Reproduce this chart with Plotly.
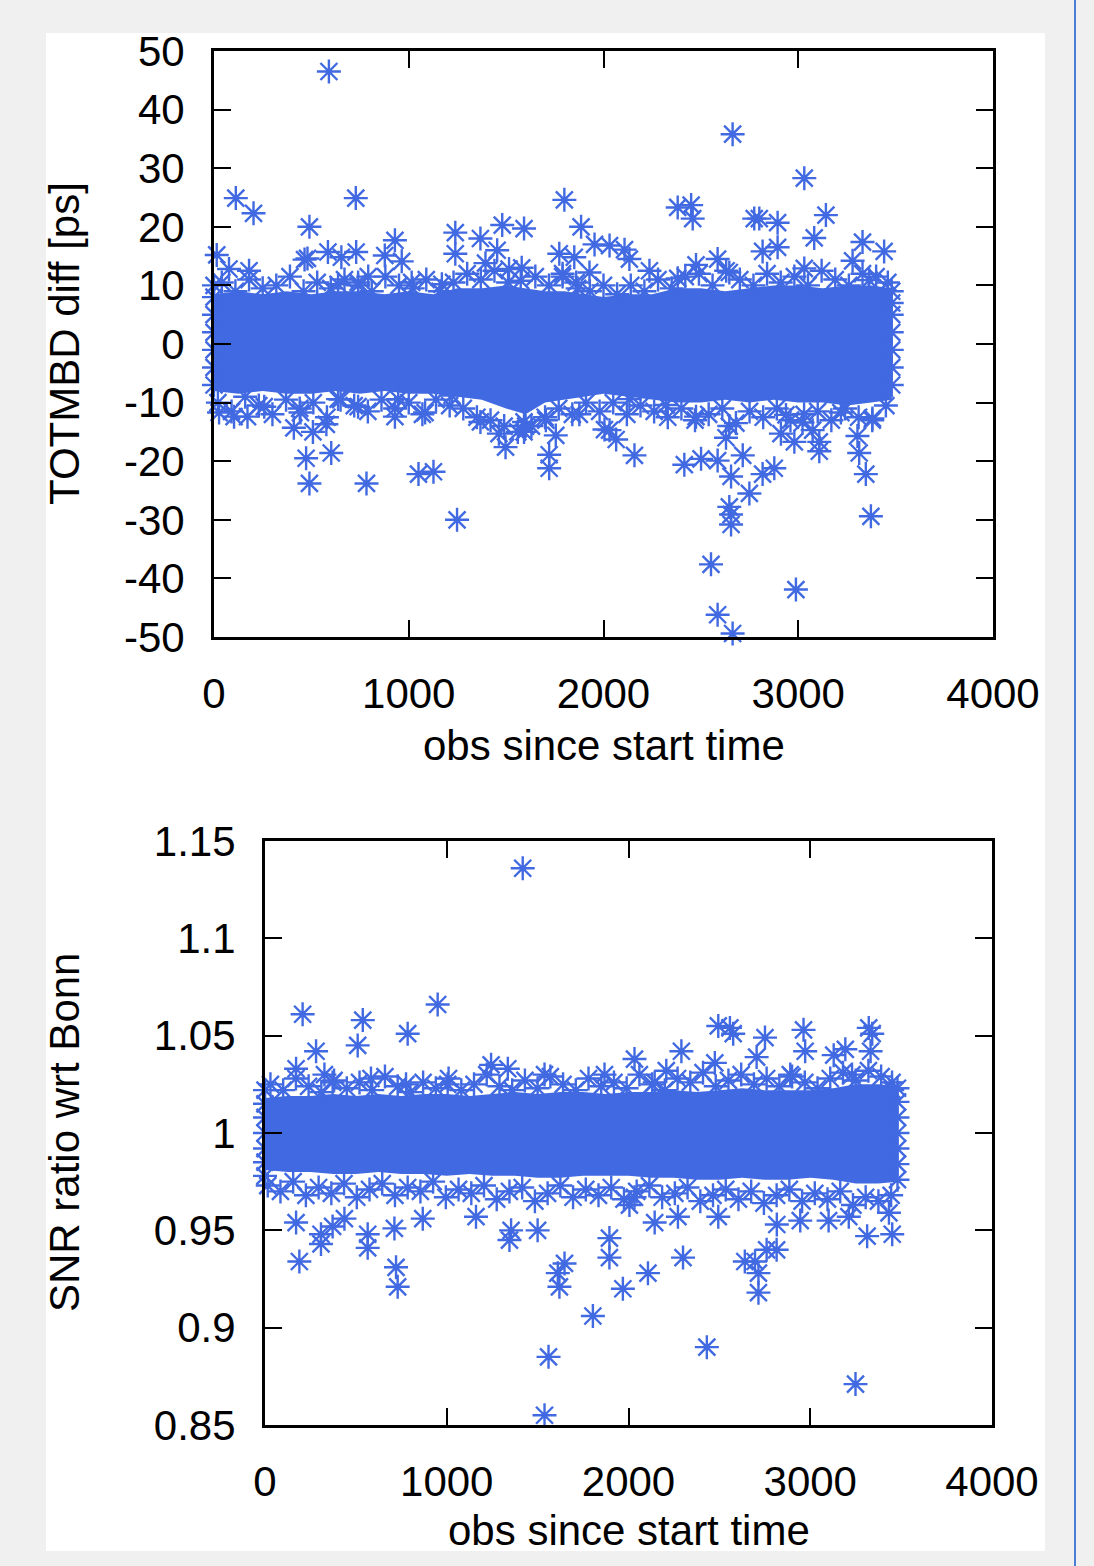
import plotly.graph_objects as go

W, H = 1094, 1566
BLUE = "#4169e1"
FONT = "Liberation Sans, Arial, Helvetica, sans-serif"

# ---------------- top panel: TOTMBD diff [ps] ----------------
top_x_ticks = [0, 1000, 2000, 3000, 4000]
top_y_ticks = [-50, -40, -30, -20, -10, 0, 10, 20, 30, 40, 50]
top_y_ticklabels = ["-50", "-40", "-30", "-20", "-10", "0", "10", "20", "30", "40", "50"]

# dense core of the point cloud (visible envelope)
top_band_obs = [0, 125, 250, 375, 500, 625, 750, 875, 1000, 1125, 1250, 1375, 1500, 1600, 1700, 1800,
                1900, 2000, 2125, 2250, 2375, 2500, 2625, 2750, 2875, 3000, 3125, 3250, 3375, 3480]
top_band_upper = [8.5, 9, 8.5, 9, 8.5, 9, 9, 8.5, 9, 8.5, 9.5, 9.5, 10, 9.5, 9, 9, 8.5, 8, 8.5, 8.5,
                  9.5, 9.5, 9, 9.5, 10, 10, 9.5, 10, 10, 9.5]
top_band_lower = [-8, -8.5, -8, -8.5, -8.5, -8, -8.5, -8, -8.5, -8.5, -9, -9.5, -11, -12, -10, -9.5,
                  -9, -8.5, -9, -9.5, -10, -10, -9.5, -10, -9.5, -10, -10, -10.5, -10, -9.5]

# points at the fringe of the core
top_fringe_obs = [0, 0, 0, 0, 0, 0, 0,
                  40, 110, 180, 250, 320, 390, 460, 530, 600, 670, 740, 810, 880, 950, 1020, 1090, 1160,
                  1230, 1300, 1370, 1440, 1510, 1580, 1650, 1720, 1790, 1860, 1930, 2000, 2070, 2140,
                  2210, 2280, 2350, 2420, 2490, 2560, 2630, 2700, 2770, 2840, 2910, 2980, 3050, 3120,
                  3190, 3260, 3330, 3400, 3460,
                  3480, 3480, 3480, 3480, 3480, 3480, 3480,
                  20, 90, 160, 230, 300, 370, 440, 510, 580, 650, 720, 790, 860, 930, 1000, 1070, 1140,
                  1210, 1280, 1350, 1420, 1490, 1560, 1630, 1700, 1770, 1840, 1910, 1980, 2050, 2120,
                  2190, 2260, 2330, 2400, 2470, 2540, 2610, 2680, 2750, 2820, 2890, 2960, 3030, 3100,
                  3170, 3240, 3310, 3380, 3450]
top_fringe_val = [-7, -4, -1, 2, 5, 8, 10,
                  10.5, 9, 11, 9.5, 10, 11.5, 9, 10.5, 9.5, 11, 10, 9, 11.5, 10, 9.5, 11, 9, 10.5, 12,
                  11, 12.5, 10.5, 13, 11.5, 10, 12, 10.5, 9, 10, 8.5, 10, 9, 11, 9.5, 11.5, 12, 10,
                  12.5, 11, 10, 12, 10.5, 11.5, 10, 12.5, 11, 10, 12, 11.5, 10.5,
                  -7, -4, -1, 2, 5, 7, 9,
                  -10, -11.5, -9, -10.5, -12, -9.5, -11, -10, -12.5, -9.5, -10.5, -11.5, -9.5, -11, -10,
                  -12, -9.5, -10.5, -11, -12.5, -13, -14, -15, -14, -12.5, -11, -12, -10, -11.5, -10,
                  -12, -10.5, -11.5, -12.5, -11, -13, -12, -11, -13.5, -11.5, -12.5, -11, -13, -12,
                  -11.5, -13, -11, -12.5, -13, -10.5]

# isolated points
top_out_obs = [590, 112, 203, 728, 490, 14, 77, 180, 465, 480, 585, 654, 730, 877, 929, 964, 1015, 792,
               637, 740, 1239, 1239, 1170, 1368, 1454, 1480, 1592, 1394, 1515, 1575, 1799, 1885, 1954,
               1773, 1850, 1928, 1790, 1867,
               2663, 3031, 2381, 2450, 2458, 2774, 2800, 2894, 3142, 3082, 3330, 3441, 2894, 2817, 2031,
               2108, 2133, 2236, 2381, 2586, 2646, 3031, 3279, 3364, 2475,
               490, 473, 602, 410, 508, 577, 444, 783, 1050, 1127, 1248, 26, 103, 172, 258, 637, 740,
               929, 946, 1084, 1222, 1368, 1463, 1497, 1592, 1592, 1600, 1721, 1721, 1755, 1876, 1704,
               2005,
               2552, 2988, 2586, 2663, 2655, 2655, 2646, 2749, 2817, 2877, 2415, 2501, 2586, 2655, 2715,
               2629, 2159, 2065, 2031, 3373, 3347, 3313, 3304, 3108, 3108, 2911, 2980, 3022, 3074, 2937,
               2646, 2475, 2321, 2133, 3219, 3381]
top_out_val = [46.5, 24.9, 22.3, 24.9, 20, 15.2, 12.8, 12.5, 14.4, 14.6, 15.7, 14.8, 15.7, 15.1, 17.7, 14.1,
               10.5, 11.5, 10.2, 10.5, 19, 15.4, 10.2, 18, 16, 20.3, 19.7, 13.8, 12.8, 10.8, 24.6, 20, 17,
               15.4, 14.8, 12.2, 11.5, 9.5,
               35.8, 28.3, 23.3, 23.7, 21.4, 21.4, 21.4, 20.7, 22, 18.1, 17.4, 15.8, 16.5, 15.8, 16.8,
               16.1, 14.5, 12.5, 11.2, 14.5, 12.2, 12.9, 14.2, 10.9, 13.5,
               -23.8, -19.5, -18.6, -14.3, -15, -13.7, -11.7, -23.8, -22.2, -21.8, -30, -11.7, -12.4,
               -12.4, -10.7, -9.4, -10.7, -12.4, -9.4, -11.7, -8.8, -13.3, -15.3, -17.6, -13.3, -15, -14,
               -18.9, -21.2, -15.6, -12, -13, -14.6,
               -37.6, -41.9, -46.2, -49.4, -29.1, -30.8, -27.8, -25.5, -22.2, -21.2, -20.6, -19.6, -19.9,
               -22.6, -19, -16, -19, -16.3, -14.7, -29.4, -22.2, -18.6, -15.7, -18.3, -16.7, -15.3, -16.7,
               -13.4, -14.7, -12.1, -14, -12.4, -10.4, -9.4, -11.7, -12.7]

# ---------------- bottom panel: SNR ratio wrt Bonn ----------------
bot_x_ticks = [0, 1000, 2000, 3000, 4000]
bot_y_ticks = [0.85, 0.9, 0.95, 1.0, 1.05, 1.1, 1.15]
bot_y_ticklabels = ["0.85", "0.9", "0.95", "1", "1.05", "1.1", "1.15"]

bot_band_obs = [0, 125, 250, 375, 500, 625, 750, 875, 1000, 1125, 1250, 1375, 1500, 1625, 1750, 1875,
                2000, 2125, 2250, 2375, 2500, 2625, 2750, 2875, 3000, 3125, 3250, 3375, 3480]
bot_band_upper = [1.018, 1.019, 1.019, 1.020, 1.019, 1.020, 1.019, 1.020, 1.020, 1.019, 1.020, 1.021,
                  1.020, 1.021, 1.021, 1.020, 1.021, 1.021, 1.022, 1.021, 1.022, 1.023, 1.022, 1.022,
                  1.022, 1.023, 1.025, 1.025, 1.024]
bot_band_lower = [0.981, 0.980, 0.980, 0.979, 0.979, 0.980, 0.979, 0.979, 0.978, 0.979, 0.978, 0.978,
                  0.977, 0.977, 0.978, 0.978, 0.978, 0.977, 0.977, 0.976, 0.976, 0.977, 0.976, 0.976,
                  0.977, 0.976, 0.974, 0.974, 0.975]

bot_fringe_obs = [0, 0, 0, 0, 0, 0, 0,
                  30, 100, 170, 240, 310, 380, 450, 520, 590, 660, 730, 800, 870, 940, 1010, 1080, 1150,
                  1220, 1290, 1360, 1430, 1500, 1570, 1640, 1710, 1780, 1850, 1920, 1990, 2060, 2130,
                  2200, 2270, 2340, 2410, 2480, 2550, 2620, 2690, 2760, 2830, 2900, 2970, 3040, 3110,
                  3180, 3250, 3320, 3390, 3450,
                  3480, 3480, 3480, 3480, 3480, 3480, 3480,
                  15, 85, 155, 225, 295, 365, 435, 505, 575, 645, 715, 785, 855, 925, 995, 1065, 1135,
                  1205, 1275, 1345, 1415, 1485, 1555, 1625, 1695, 1765, 1835, 1905, 1975, 2045, 2115,
                  2185, 2255, 2325, 2395, 2465, 2535, 2605, 2675, 2745, 2815, 2885, 2955, 3025, 3095,
                  3165, 3235, 3305, 3375, 3445]
bot_fringe_val = [0.978, 0.985, 0.992, 1.0, 1.008, 1.015, 1.022,
                  1.025, 1.022, 1.028, 1.024, 1.021, 1.027, 1.023, 1.026, 1.022, 1.029, 1.024, 1.021,
                  1.026, 1.023, 1.028, 1.022, 1.025, 1.030, 1.024, 1.022, 1.027, 1.023, 1.029, 1.025,
                  1.022, 1.028, 1.024, 1.026, 1.023, 1.030, 1.025, 1.022, 1.028, 1.026, 1.031, 1.024,
                  1.027, 1.030, 1.025, 1.028, 1.024, 1.029, 1.026, 1.023, 1.028, 1.031, 1.027, 1.032,
                  1.029, 1.026,
                  0.976, 0.984, 0.992, 1.0, 1.008, 1.016, 1.023,
                  0.973, 0.970, 0.975, 0.968, 0.972, 0.969, 0.974, 0.967, 0.971, 0.974, 0.968, 0.972,
                  0.970, 0.975, 0.967, 0.971, 0.969, 0.973, 0.966, 0.970, 0.972, 0.965, 0.969, 0.973,
                  0.967, 0.971, 0.968, 0.972, 0.966, 0.970, 0.973, 0.967, 0.969, 0.972, 0.965, 0.968,
                  0.971, 0.966, 0.970, 0.964, 0.968, 0.971, 0.965, 0.969, 0.966, 0.970, 0.963, 0.967,
                  0.965, 0.968]

bot_out_obs = [1418, 207, 538, 950, 785, 510, 281, 171, 327, 372, 583, 1244, 1336, 1538, 1868, 776, 1005,
               2494, 2558, 2576, 2751, 2963, 2972, 3322, 3341, 3332, 3129, 3193, 2033, 2291, 2208, 2475,
               2705, 2890, 2144, 3230, 3451,
               189, 171, 308, 308, 372, 437, 565, 565, 721, 730, 712, 868, 1161, 1345, 1354, 1500, 1560,
               1538, 1611, 1620, 1648, 1804, 1895, 1895, 1969,
               2107, 2300, 2431, 2696, 2715, 2715, 2760, 2815, 2640, 3249, 2144, 2272, 2494, 2945, 3101,
               3212, 3313, 3451, 3433, 2816, 2005, 2033]
bot_out_val = [1.136, 1.061, 1.058, 1.066, 1.051, 1.045, 1.042, 1.033, 1.030, 1.026, 1.028, 1.035, 1.033,
               1.030, 1.030, 1.025, 1.025,
               1.055, 1.054, 1.051, 1.049, 1.053, 1.042, 1.054, 1.051, 1.042, 1.040, 1.043, 1.038, 1.042,
               1.032, 1.036, 1.039, 1.030, 1.026, 1.030, 1.022,
               0.934, 0.954, 0.943, 0.948, 0.952, 0.956, 0.941, 0.948, 0.931, 0.921, 0.951, 0.956, 0.957,
               0.945, 0.950, 0.950, 0.885, 0.855, 0.928, 0.921, 0.933, 0.906, 0.936, 0.946, 0.920,
               0.928, 0.936, 0.890, 0.934, 0.928, 0.918, 0.940, 0.940, 0.934, 0.871, 0.954, 0.957, 0.957,
               0.955, 0.955, 0.957, 0.947, 0.948, 0.959, 0.953, 0.963, 0.967]

TITLE_X = "obs since start time"
TITLE_Y_TOP = "TOTMBD diff [ps]"
TITLE_Y_BOT = "SNR ratio wrt Bonn"

# ---------------- figure ----------------
fig = go.Figure()
marker = dict(symbol="asterisk-open", size=20, color=BLUE, line=dict(width=2.4, color=BLUE))


def add_panel(band_x, band_up, band_lo, fr_x, fr_y, out_x, out_y, xa, ya):
    fig.add_trace(go.Scatter(x=band_x + band_x[::-1], y=band_up + band_lo[::-1], mode="lines",
                             fill="toself", fillcolor=BLUE, line=dict(width=0, color=BLUE),
                             hoverinfo="skip", showlegend=False, xaxis=xa, yaxis=ya))
    fig.add_trace(go.Scatter(x=fr_x, y=fr_y, mode="markers", marker=marker, cliponaxis=False,
                             showlegend=False, xaxis=xa, yaxis=ya))
    fig.add_trace(go.Scatter(x=out_x, y=out_y, mode="markers", marker=marker, cliponaxis=False,
                             showlegend=False, xaxis=xa, yaxis=ya))


add_panel(top_band_obs, top_band_upper, top_band_lower, top_fringe_obs, top_fringe_val,
          top_out_obs, top_out_val, "x", "y")
add_panel(bot_band_obs, bot_band_upper, bot_band_lower, bot_fringe_obs, bot_fringe_val,
          bot_out_obs, bot_out_val, "x2", "y2")

axis_common = dict(showline=True, linewidth=3, linecolor="black", mirror="ticks", ticks="inside",
                   ticklen=17, tickwidth=2, tickcolor="black", showgrid=False, zeroline=False,
                   tickfont=dict(family=FONT, size=42, color="black"), ticklabelstandoff=18)

fig.update_layout(
    width=W, height=H, autosize=False,
    margin=dict(l=0, r=0, t=0, b=0, autoexpand=False),
    paper_bgcolor="#f0f0f0", plot_bgcolor="white",
    showlegend=False,
    xaxis=dict(domain=[214 / W, 993 / W], anchor="y", range=[0, 4000], tickvals=top_x_ticks, **axis_common),
    yaxis=dict(domain=[1 - 637 / H, 1 - 51 / H], anchor="x", range=[-50, 50], tickvals=top_y_ticks,
               ticktext=top_y_ticklabels, **axis_common),
    xaxis2=dict(domain=[265 / W, 992 / W], anchor="y2", range=[0, 4000], tickvals=bot_x_ticks, **axis_common),
    yaxis2=dict(domain=[1 - 1425 / H, 1 - 841 / H], anchor="x2", range=[0.85, 1.15], tickvals=bot_y_ticks,
                ticktext=bot_y_ticklabels, **axis_common),
    shapes=[
        dict(type="rect", xref="paper", yref="paper", x0=46 / W, x1=1045 / W, y0=1 - 1551 / H, y1=1 - 33 / H,
             fillcolor="white", line=dict(width=0), layer="below"),
        dict(type="line", xref="paper", yref="paper", x0=1075 / W, x1=1075 / W, y0=0, y1=1,
             line=dict(color="#4a7fd6", width=2)),
    ],
    annotations=[
        dict(text=TITLE_X, xref="paper", yref="paper", x=603.5 / W, y=1 - 745 / H, showarrow=False,
             xanchor="center", yanchor="middle", font=dict(family=FONT, size=42, color="black")),
        dict(text=TITLE_X, xref="paper", yref="paper", x=628.5 / W, y=1 - 1530 / H, showarrow=False,
             xanchor="center", yanchor="middle", font=dict(family=FONT, size=42, color="black")),
        dict(text=TITLE_Y_TOP, xref="paper", yref="paper", x=64 / W, y=1 - 344 / H, showarrow=False,
             textangle=-90, xanchor="center", yanchor="middle", font=dict(family=FONT, size=42, color="black")),
        dict(text=TITLE_Y_BOT, xref="paper", yref="paper", x=64 / W, y=1 - 1133 / H, showarrow=False,
             textangle=-90, xanchor="center", yanchor="middle", font=dict(family=FONT, size=42, color="black")),
    ],
)

fig.write_html(
    "out.html",
    config={"responsive": False, "displayModeBar": False},
    post_script="document.body.style.margin='0';document.body.style.overflow='hidden';",
)
